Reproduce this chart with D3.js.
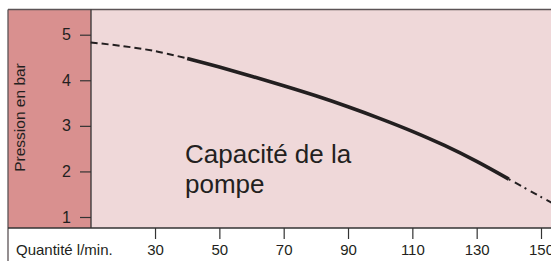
<!DOCTYPE html>
<html>
<head>
<meta charset="utf-8">
<script src="https://cdn.jsdelivr.net/npm/d3@7"></script>
<style>
  body { margin: 0; background: #fff; }
  svg { display: block; font-family: "Liberation Sans", Arial, Helvetica, sans-serif; }
</style>
</head>
<body>
<svg id="chart" width="551" height="261"></svg>
<script>
// pump curve
var flow     = [10, 20, 30, 40, 50, 60, 70, 80, 90, 100, 110, 120, 130, 140, 150, 155];
var pressure = [4.83, 4.75, 4.64, 4.48, 4.29, 4.09, 3.88, 3.66, 3.42, 3.16, 2.88, 2.57, 2.22, 1.83, 1.44, 1.25];
var xTicks = [30, 50, 70, 90, 110, 130, 150];
var yTicks = [1, 2, 3, 4, 5];
var solidFrom = 40, solidTo = 140;

var svg = d3.select("#chart");

var frameTop = 9.5, frameLeft = 8, plotBottom = 228, bandRight = 91;

var xScale = d3.scaleLinear().domain([10, 150]).range([90.7, 541]);
var yScale = d3.scaleLinear().domain([1, 5]).range([217, 34.7]);

// backgrounds
svg.append("rect")
   .attr("x", bandRight).attr("y", frameTop)
   .attr("width", 551 - bandRight + 10).attr("height", plotBottom - frameTop)
   .attr("fill", "#efd8d9");
svg.append("rect")
   .attr("x", frameLeft).attr("y", frameTop)
   .attr("width", bandRight - frameLeft).attr("height", plotBottom - frameTop)
   .attr("fill", "#d9908f");

// frame lines
var frameColor = "#5b5356";
svg.append("line").attr("x1", frameLeft).attr("x2", 560).attr("y1", frameTop).attr("y2", frameTop)
   .attr("stroke", frameColor).attr("stroke-width", 1.6);
svg.append("line").attr("x1", frameLeft).attr("x2", frameLeft).attr("y1", frameTop).attr("y2", 270)
   .attr("stroke", frameColor).attr("stroke-width", 1.3);
svg.append("line").attr("x1", frameLeft).attr("x2", 560).attr("y1", plotBottom).attr("y2", plotBottom)
   .attr("stroke", "#333").attr("stroke-width", 1.3);
svg.append("line").attr("x1", bandRight).attr("x2", bandRight).attr("y1", frameTop).attr("y2", plotBottom)
   .attr("stroke", "#333").attr("stroke-width", 1.3);

// axes
var yAxis = svg.append("g")
   .attr("transform", "translate(" + bandRight + ",0)")
   .call(d3.axisLeft(yScale).tickValues(yTicks).tickSize(11).tickPadding(9).tickFormat(d3.format("d")));
yAxis.select(".domain").remove();
yAxis.selectAll("line").attr("stroke", "#333").attr("stroke-width", 1.2);
yAxis.selectAll("text").attr("font-size", 16).attr("fill", "#231f20")
   .style("font-family", "Liberation Sans, Arial, sans-serif");

var xAxis = svg.append("g")
   .attr("transform", "translate(0," + plotBottom + ")")
   .call(d3.axisBottom(xScale).tickValues(xTicks).tickSize(11).tickPadding(5).tickFormat(d3.format("d")));
xAxis.select(".domain").remove();
xAxis.selectAll("line").attr("stroke", "#333").attr("stroke-width", 1.2);
xAxis.selectAll("text").attr("font-size", 15).attr("fill", "#231f20")
   .style("font-family", "Liberation Sans, Arial, sans-serif");

svg.append("text")
   .attr("x", 16).attr("y", 255)
   .attr("font-size", 15).attr("fill", "#231f20")
   .text("Quantité l/min.");

svg.append("text")
   .attr("transform", "translate(25,117.5) rotate(-90)")
   .attr("text-anchor", "middle")
   .attr("font-size", 15.5).attr("fill", "#231f20")
   .text("Pression en bar");

// curve
var pts = flow.map(function(f, i){ return [f, pressure[i]]; });
var line = d3.line()
   .x(function(d){ return xScale(d[0]); })
   .y(function(d){ return yScale(d[1]); })
   .curve(d3.curveCatmullRom);

var g = svg.append("g");
g.append("path")
   .attr("d", line(pts.filter(function(d){ return d[0] <= solidFrom; })))
   .attr("fill", "none").attr("stroke", "#231f20").attr("stroke-width", 2)
   .attr("stroke-dasharray", "7,4");
g.append("path")
   .attr("d", line(pts.filter(function(d){ return d[0] >= solidFrom && d[0] <= solidTo; })))
   .attr("fill", "none").attr("stroke", "#231f20").attr("stroke-width", 3.6);
g.append("path")
   .attr("d", line(pts.filter(function(d){ return d[0] >= solidTo; })))
   .attr("fill", "none").attr("stroke", "#231f20").attr("stroke-width", 2)
   .attr("stroke-dasharray", "2,5,7,4");

// label
var label = svg.append("text")
   .attr("font-size", 26).attr("fill", "#231f20");
label.append("tspan").attr("x", 185).attr("y", 163).text("Capacité de la");
label.append("tspan").attr("x", 185).attr("y", 193).text("pompe");
</script>
</body>
</html>
